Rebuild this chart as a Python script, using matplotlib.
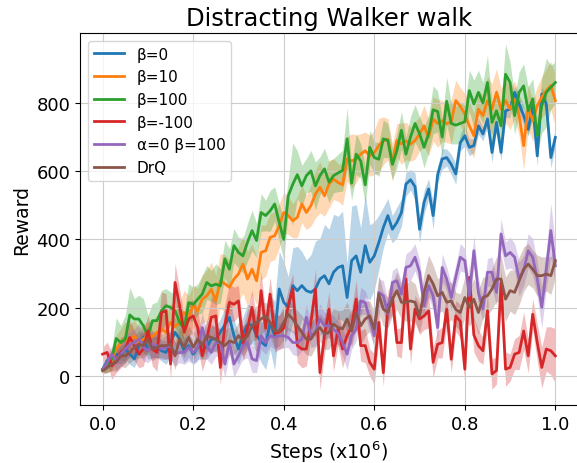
import numpy as np
import matplotlib
matplotlib.use("Agg")
import matplotlib.pyplot as plt

steps = np.round(np.arange(0, 101) * 0.01, 2)

beta0 = [20, 45, 50, 64, 60, 79, 64, 50, 89, 113,
         79, 89, 84, 74, 69, 98, 128, 108, 74, 89,
         64, 84, 89, 84, 108, 108, 128, 150, 172, 118,
         79, 125, 150, 150, 120, 100, 89, 157, 118, 255,
         216, 201, 265, 250, 265, 250, 245, 255, 284, 294,
         270, 304, 318, 323, 230, 338, 352, 304, 382, 333,
         352, 391, 435, 470, 430, 450, 479, 562, 575, 555,
         430, 509, 548, 470, 590, 636, 640, 620, 592, 684,
         704, 670, 675, 733, 709, 753, 655, 743, 655, 777,
         782, 831, 797, 763, 723, 792, 645, 826, 797, 640, 699]
beta0_sd = [10, 15, 20, 25, 25, 30, 30, 25, 30, 35,
            30, 35, 30, 30, 35, 40, 45, 40, 35, 35,
            30, 35, 40, 35, 40, 35, 40, 50, 60, 50,
            45, 50, 60, 55, 50, 60, 70, 80, 100, 110,
            120, 90, 110, 130, 100, 90, 110, 140, 120, 150,
            160, 170, 150, 160, 100, 160, 150, 130, 150, 110,
            100, 80, 60, 50, 40, 45, 40, 35, 30, 40,
            40, 35, 30, 40, 25, 30, 25, 30, 30, 25,
            30, 25, 20, 25, 20, 25, 30, 20, 25, 20,
            25, 20, 25, 30, 20, 25, 30, 20, 25, 30, 25]

beta10 = [20, 30, 45, 79, 98, 108, 100, 118, 100, 108,
          118, 115, 128, 137, 128, 157, 145, 157, 186, 176,
          206, 191, 225, 235, 254, 220, 279, 270, 260, 284,
          299, 328, 284, 313, 279, 362, 367, 406, 411, 440,
          479, 470, 455, 465, 504, 479, 499, 533, 553, 528,
          562, 577, 567, 560, 636, 630, 636, 650, 660, 645,
          655, 675, 689, 694, 626, 690, 680, 689, 679, 690,
          709, 733, 699, 753, 740, 748, 739, 745, 807, 790,
          768, 733, 704, 782, 763, 807, 782, 831, 782, 807,
          782, 810, 763, 675, 787, 748, 792, 817, 836, 851, 807]
beta10_sd = [10, 20, 30, 40, 40, 50, 50, 45, 40, 45,
             40, 45, 50, 45, 50, 55, 60, 60, 65, 60,
             60, 65, 70, 75, 80, 75, 80, 85, 80, 75,
             80, 85, 80, 75, 70, 80, 75, 70, 70, 65,
             60, 55, 50, 60, 55, 50, 60, 70, 75, 60,
             70, 60, 55, 60, 65, 80, 70, 60, 55, 60,
             65, 80, 70, 60, 55, 50, 60, 55, 50, 55,
             50, 60, 55, 65, 70, 60, 55, 65, 60, 55,
             60, 70, 65, 55, 60, 70, 75, 70, 60, 65,
             60, 55, 60, 70, 65, 60, 55, 60, 65, 70, 75]

beta100 = [20, 30, 49, 110, 98, 108, 179, 167, 167, 147,
           118, 162, 162, 191, 206, 201, 191, 157, 137, 215,
           210, 225, 240, 274, 264, 269, 264, 343, 313, 382,
           362, 352, 392, 426, 397, 479, 470, 484, 504, 450,
           400, 528, 562, 590, 557, 587, 601, 557, 587, 607,
           568, 587, 595, 602, 695, 565, 650, 630, 560, 670,
           640, 635, 695, 690, 620, 660, 720, 650, 700, 740,
           710, 670, 710, 780, 775, 700, 805, 740, 735, 740,
           745, 836, 797, 831, 800, 860, 743, 777, 733, 884,
           860, 763, 831, 850, 777, 812, 704, 792, 831, 846, 860]
beta100_sd = [10, 20, 30, 60, 50, 70, 80, 60, 70, 80,
              60, 50, 55, 60, 50, 45, 50, 45, 50, 55,
              50, 45, 55, 50, 45, 60, 50, 55, 60, 50,
              45, 50, 55, 60, 50, 55, 45, 60, 50, 55,
              60, 50, 120, 70, 60, 50, 60, 70, 55, 60,
              60, 50, 55, 60, 90, 50, 60, 50, 55, 50,
              45, 50, 55, 50, 45, 50, 55, 50, 60, 55,
              50, 60, 55, 70, 60, 55, 70, 60, 55, 60,
              50, 60, 70, 65, 60, 80, 60, 65, 70, 90,
              60, 55, 60, 65, 70, 60, 55, 80, 100, 65, 60]

beta_neg100 = [64, 69, 30, 45, 69, 79, 113, 89, 64, 79,
               132, 79, 69, 186, 191, 35, 274, 206, 128, 167,
               176, 142, 59, 108, 172, 176, 25, 150, 216, 210,
               220, 93, 140, 201, 115, 250, 140, 240, 125, 128,
               140, 206, 255, 89, 79, 79, 157, 255, 10, 118,
               196, 59, 138, 79, 118, 147, 225, 89, 89, 40,
               20, 157, 10, 206, 230, 98, 98, 284, 79, 196,
               167, 176, 191, 40, 93, 98, 196, 49, 176, 160,
               20, 289, 120, 89, 74, 191, 6, 16, 274, 20,
               25, 64, 69, 132, 59, 181, 98, 25, 79, 74, 59]
beta_neg100_sd = [20, 30, 40, 35, 45, 40, 50, 45, 40, 50,
                  45, 50, 55, 60, 50, 45, 55, 50, 45, 50,
                  50, 55, 45, 50, 60, 55, 50, 60, 55, 50,
                  45, 50, 55, 50, 60, 55, 45, 50, 55, 50,
                  55, 50, 45, 50, 55, 50, 45, 60, 50, 55,
                  50, 45, 50, 55, 45, 50, 55, 45, 50, 40,
                  45, 50, 40, 45, 50, 40, 45, 50, 45, 40,
                  45, 40, 50, 45, 40, 45, 50, 40, 45, 50,
                  40, 45, 50, 45, 40, 50, 45, 40, 45, 50,
                  40, 45, 50, 55, 50, 45, 55, 60, 65, 70, 80]

alpha0_beta100 = [20, 39, 64, 45, 64, 79, 93, 98, 108, 84,
                  74, 93, 89, 79, 84, 89, 64, 69, 69, 84,
                  69, 84, 142, 89, 69, 98, 98, 35, 98, 35,
                  59, 89, 98, 50, 45, 118, 98, 118, 113, 118,
                  118, 113, 98, 98, 108, 172, 118, 128, 167, 147,
                  147, 137, 125, 98, 64, 118, 137, 220, 215, 167,
                  118, 245, 235, 181, 274, 279, 240, 318, 323, 348,
                  304, 206, 265, 235, 142, 318, 284, 230, 290, 348,
                  338, 235, 367, 245, 196, 304, 304, 245, 416, 352,
                  362, 348, 284, 309, 367, 348, 284, 201, 313, 426, 323]
alpha0_beta100_sd = [10, 20, 25, 30, 35, 40, 35, 40, 45, 40,
                     35, 40, 35, 30, 35, 40, 35, 30, 35, 40,
                     35, 40, 45, 40, 35, 40, 45, 40, 35, 40,
                     35, 40, 45, 40, 35, 40, 35, 30, 35, 40,
                     35, 30, 35, 40, 35, 40, 35, 40, 45, 40,
                     35, 40, 35, 40, 45, 40, 35, 40, 35, 40,
                     35, 40, 45, 40, 35, 40, 35, 40, 45, 40,
                     35, 40, 35, 40, 45, 40, 35, 40, 35, 40,
                     35, 40, 45, 40, 35, 40, 45, 40, 45, 40,
                     45, 40, 50, 45, 50, 55, 50, 60, 55, 80, 60]

drq = [15, 25, 35, 40, 59, 59, 69, 84, 93, 89,
       108, 79, 84, 89, 89, 93, 59, 108, 84, 113,
       84, 108, 89, 118, 113, 108, 98, 89, 103, 98,
       118, 103, 118, 147, 157, 167, 176, 157, 132, 132,
       157, 181, 167, 147, 128, 108, 108, 128, 142, 123,
       128, 152, 142, 138, 167, 132, 186, 147, 167, 176,
       138, 240, 196, 186, 225, 250, 216, 216, 220, 216,
       176, 245, 294, 270, 235, 245, 216, 220, 195, 186,
       230, 201, 225, 186, 230, 235, 255, 284, 284, 225,
       250, 245, 279, 313, 328, 313, 294, 294, 299, 294, 338]
drq_sd = [10, 15, 20, 25, 30, 35, 30, 35, 40, 35,
          40, 35, 30, 35, 40, 35, 40, 35, 30, 35,
          40, 35, 40, 45, 40, 35, 40, 45, 40, 35,
          40, 45, 40, 45, 50, 45, 40, 45, 50, 45,
          50, 45, 40, 45, 50, 45, 50, 45, 40, 45,
          50, 45, 50, 55, 50, 45, 50, 55, 50, 45,
          50, 55, 50, 45, 50, 55, 50, 55, 60, 55,
          50, 55, 60, 55, 50, 55, 60, 55, 50, 55,
          60, 55, 60, 65, 60, 55, 60, 65, 70, 65,
          60, 65, 70, 65, 60, 55, 60, 55, 50, 55, 50]

labels = ["β=0", "β=10", "β=100", "β=-100", "α=0 β=100", "DrQ"]
means = [beta0, beta10, beta100, beta_neg100, alpha0_beta100, drq]
spreads = [beta0_sd, beta10_sd, beta100_sd, beta_neg100_sd, alpha0_beta100_sd, drq_sd]

fig = plt.figure(figsize=(5.77, 4.64), dpi=100)
ax = fig.add_axes([80 / 577, 58 / 464, 498 / 577, 372 / 464])

for label, m, s in zip(labels, means, spreads):
    m = np.array(m, dtype=float)
    s = np.array(s, dtype=float)
    line, = ax.plot(steps, m, label=label, linewidth=2)
    ax.fill_between(steps, m - s, m + s, color=line.get_color(), alpha=0.3, linewidth=0)

ax.set_ylim(-85, 1005)
ax.set_yticks([0, 200, 400, 600, 800])
ax.grid(True, color="#cccccc", linewidth=0.8)
ax.tick_params(labelsize=13)
ax.set_title("Distracting Walker walk", fontsize=17.5)
ax.set_xlabel("Steps (x10$^6$)", fontsize=13.7)
ax.set_ylabel("Reward", fontsize=13.5)
ax.legend(loc="upper left", fontsize=11)

fig.savefig("out.png", dpi=100)
